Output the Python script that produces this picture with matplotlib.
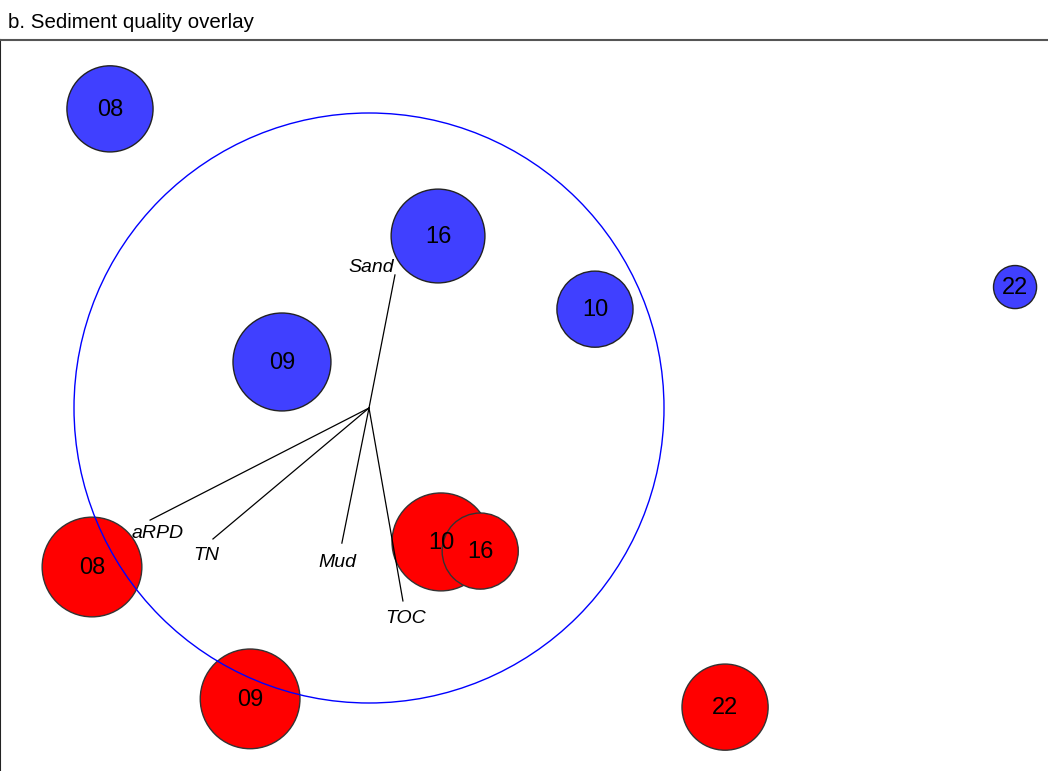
import matplotlib
matplotlib.use("Agg")
import matplotlib.pyplot as plt
from matplotlib.patches import Circle

plt.rcParams['font.family'] = ['Liberation Sans', 'DejaVu Sans']

# Site scores (ordination space) with bubble radius, early survey group
blue_labels = ["08", "16", "10", "09", "22"]
blue_x = [-0.878, 0.234, 0.766, -0.295, 2.190]
blue_y = [1.014, 0.583, 0.335, 0.156, 0.410]
blue_r = [0.146, 0.159, 0.129, 0.166, 0.073]

# Site scores, later survey group
red_labels = ["08", "09", "10", "16", "22"]
red_x = [-0.939, -0.403, 0.244, 0.377, 1.207]
red_y = [-0.539, -0.986, -0.454, -0.485, -1.014]
red_r = [0.169, 0.169, 0.166, 0.129, 0.146]

# Sediment variable vectors
var_names = ["Sand", "aRPD", "TN", "Mud", "TOC"]
var_x = [0.088, -0.742, -0.529, -0.092, 0.115]
var_y = [0.451, -0.380, -0.444, -0.458, -0.654]

# label offsets (pixels) relative to vector tips
label_off = {"Sand": (-24, 7), "aRPD": (8, -13), "TN": (-7, -17),
             "Mud": (-4, -19), "TOC": (3, -18)}

W, H = 1048, 771
fig = plt.figure(figsize=(W / 100, H / 100), dpi=100)
top = 40
ax = fig.add_axes([0.0, 0.0, 1.0, (H - top) / H])

scale = 295.0
cx, cy = 369.0, 408.0
ax.set_xlim((0 - cx) / scale, (W - cx) / scale)
ax.set_ylim((cy - H) / scale, (cy - top) / scale)
ax.set_aspect('equal', adjustable='box')
ax.set_xticks([])
ax.set_yticks([])
for s in ("right", "bottom"):
    ax.spines[s].set_visible(False)
ax.spines["top"].set_color("#555555")
ax.spines["left"].set_color("#222222")
ax.spines["top"].set_linewidth(1.5)
ax.spines["left"].set_linewidth(1.5)

for x, y, r in zip(blue_x, blue_y, blue_r):
    ax.add_patch(Circle((x, y), r, facecolor="#4040FF", edgecolor="#222222",
                        linewidth=1.0, zorder=2))
for x, y, r in zip(red_x, red_y, red_r):
    ax.add_patch(Circle((x, y), r, facecolor="#FF0000", edgecolor="#333333",
                        linewidth=1.0, zorder=2))

# unit correlation circle
ax.add_patch(Circle((0, 0), 1.0, fill=False, edgecolor="#0000FF",
                    linewidth=1.0, zorder=3))

for name, vx, vy in zip(var_names, var_x, var_y):
    ax.plot([0, vx], [0, vy], color="black", linewidth=0.9, zorder=4)
    dx, dy = label_off[name]
    ax.annotate(name, (vx, vy), xytext=(dx, dy), textcoords="offset pixels",
                ha="center", va="center", fontsize=14, style="italic",
                zorder=5)

for x, y, lab in zip(blue_x + red_x, blue_y + red_y, blue_labels + red_labels):
    ax.annotate(lab, (x, y), xytext=(0, -1), textcoords="offset pixels",
                ha="center", va="center", fontsize=17, zorder=6)

fig.text(8 / W, 1 - 22 / H, "b. Sediment quality overlay", ha="left",
         va="center", fontsize=14.8)

fig.savefig("out.png", dpi=100)
